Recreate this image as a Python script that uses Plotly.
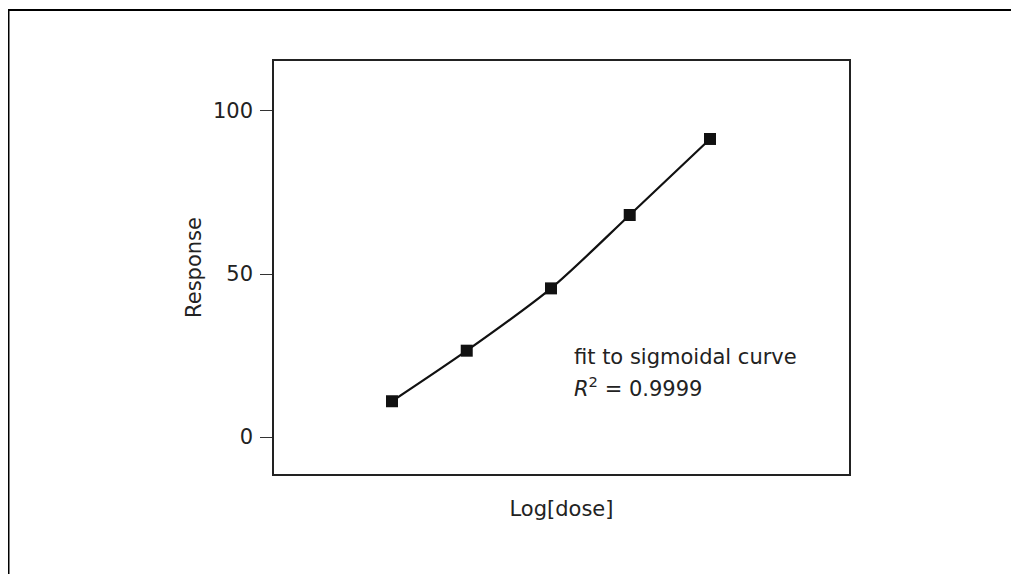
import plotly.graph_objects as go

# Data
log_dose = [1.0, 1.94, 3.0, 3.99, 5.0]
response = [11.0, 26.5, 45.6, 68.1, 91.4]
y_ticks = [0, 50, 100]
y_tick_labels = ["0", "50", "100"]

FONT = "DejaVu Sans, Liberation Sans, Arial, sans-serif"
TXT = "#222222"
FS = 21

fig = go.Figure()
fig.add_trace(go.Scatter(
    x=log_dose, y=response, mode="lines+markers",
    line=dict(color="#111111", width=2.2, shape="spline", smoothing=0.8),
    marker=dict(symbol="square", size=12, color="#111111"),
    showlegend=False, hoverinfo="skip",
))

# page has an 8px body margin: figure occupies page px 8..1019 x 8..574
OFF = 8
W, H = 1019 - OFF, 574 - OFF
L, R, T, B = 274 - OFF, 849 - OFF, 61 - OFF, 474 - OFF
pw, ph = R - L, B - T


def px2paper_x(px):
    return (px - L) / pw


def px2paper_y(py):
    return (B - py) / ph


fig.update_layout(
    width=W, height=H,
    margin=dict(l=L, r=W - R, t=T, b=H - B, pad=0),
    paper_bgcolor="white", plot_bgcolor="white",
    font=dict(family=FONT, size=FS, color=TXT),
    xaxis=dict(
        range=[-0.484, 6.748], showgrid=False, zeroline=False,
        showline=True, mirror=True, linecolor="#222222", linewidth=1.5,
        showticklabels=False, ticks="",
        title=dict(text="Log[dose]", font=dict(size=FS), standoff=27),
    ),
    yaxis=dict(
        range=[-11.3, 115.3], showgrid=False, zeroline=False,
        showline=True, mirror=True, linecolor="#222222", linewidth=1.5,
        tickmode="array", tickvals=y_ticks, ticktext=y_tick_labels,
        ticks="outside", ticklen=12, tickwidth=1.2, tickcolor="#333333",
        ticklabelstandoff=3,
        title=dict(text="Response", font=dict(size=FS), standoff=6),
    ),
    shapes=[
        dict(type="line", xref="paper", yref="paper",
             x0=px2paper_x(-1), x1=px2paper_x(W + 2),
             y0=px2paper_y(2), y1=px2paper_y(2),
             line=dict(color="black", width=2)),
        dict(type="line", xref="paper", yref="paper",
             x0=px2paper_x(0.5), x1=px2paper_x(0.5),
             y0=px2paper_y(2), y1=px2paper_y(H + 2),
             line=dict(color="black", width=2)),
    ],
    annotations=[
        dict(x=3.27, y=24.7, xref="x", yref="y", text="fit to sigmoidal curve",
             showarrow=False, xanchor="left", yanchor="middle",
             font=dict(size=FS, family=FONT, color=TXT)),
        dict(x=3.27, y=15.3, xref="x", yref="y",
             text="<i>R</i><sup>2</sup> = 0.9999",
             showarrow=False, xanchor="left", yanchor="middle",
             font=dict(size=FS, family=FONT, color=TXT)),
    ],
)

fig.write_html("out.html")
